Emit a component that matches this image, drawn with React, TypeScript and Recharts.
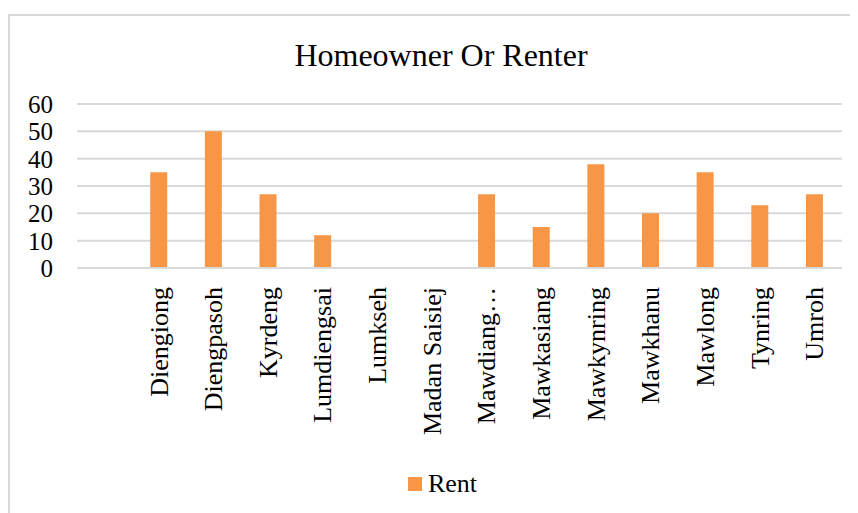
import { BarChart, Bar, CartesianGrid, XAxis, YAxis, Legend } from "recharts";

const areas = [
  "",
  "Diengiong",
  "Diengpasoh",
  "Kyrdeng",
  "Lumdiengsai",
  "Lumkseh",
  "Madan Saisiej",
  "Mawdiang…",
  "Mawkasiang",
  "Mawkynring",
  "Mawkhanu",
  "Mawlong",
  "Tynring",
  "Umroh",
];
const rent = [null, 35, 50, 27, 12, 0, 0, 27, 15, 38, 20, 35, 23, 27];
const yTicks = [0, 10, 20, 30, 40, 50, 60];

const data = areas.map((name, i) => ({ name, rent: rent[i] }));

const font = "Liberation Serif, DejaVu Serif, serif";

const AreaTick = (props: any) => {
  const { x, y, payload } = props;
  const ty = y + 17;
  return (
    <text
      x={x}
      y={ty}
      transform={`rotate(-90 ${x} ${ty})`}
      textAnchor="end"
      dy="0.33em"
      fill="#000"
      fontSize={26}
      fontFamily={font}
    >
      {payload.value}
    </text>
  );
};

const RentLegend = () => (
  <div
    style={{
      display: "flex",
      alignItems: "center",
      justifyContent: "center",
      paddingLeft: 26,
      paddingTop: 1,
      fontFamily: font,
      fontSize: 26,
      color: "#000",
    }}
  >
    <span style={{ width: 14, height: 14, background: "#F79646", marginRight: 6 }} />
    Rent
  </div>
);

export default function App() {
  return (
    <div style={{ position: "relative", width: 850, height: 505 }}>
      <div
        style={{
          position: "absolute",
          left: 0,
          top: 6,
          width: 860,
          height: 520,
          borderTop: "2px solid #d9d9d9",
          borderLeft: "2px solid #d9d9d9",
        }}
      />
      <div
        style={{
          position: "absolute",
          left: 0,
          top: 29,
          width: 866,
          textAlign: "center",
          fontFamily: font,
          fontSize: 32,
          color: "#000",
        }}
      >
        Homeowner Or Renter
      </div>
      <BarChart
        width={850}
        height={505}
        data={data}
        margin={{ top: 96, right: 16, bottom: 5, left: 9 }}
        barCategoryGap="34%"
      >
        <CartesianGrid vertical={false} stroke="#d9d9d9" strokeWidth={2} />
        <XAxis
          dataKey="name"
          interval={0}
          height={200}
          tickLine={false}
          tickSize={0}
          axisLine={{ stroke: "#d9d9d9", strokeWidth: 2 }}
          tick={<AreaTick />}
        />
        <YAxis
          width={60}
          domain={[0, 60]}
          ticks={yTicks}
          interval={0}
          axisLine={false}
          tickLine={false}
          tickSize={0}
          tickMargin={24}
          tick={{ fill: "#000", fontSize: 25, fontFamily: font }}
        />
        <Legend verticalAlign="bottom" height={40} content={<RentLegend />} />
        <Bar dataKey="rent" fill="#F79646" isAnimationActive={false} />
      </BarChart>
    </div>
  );
}
